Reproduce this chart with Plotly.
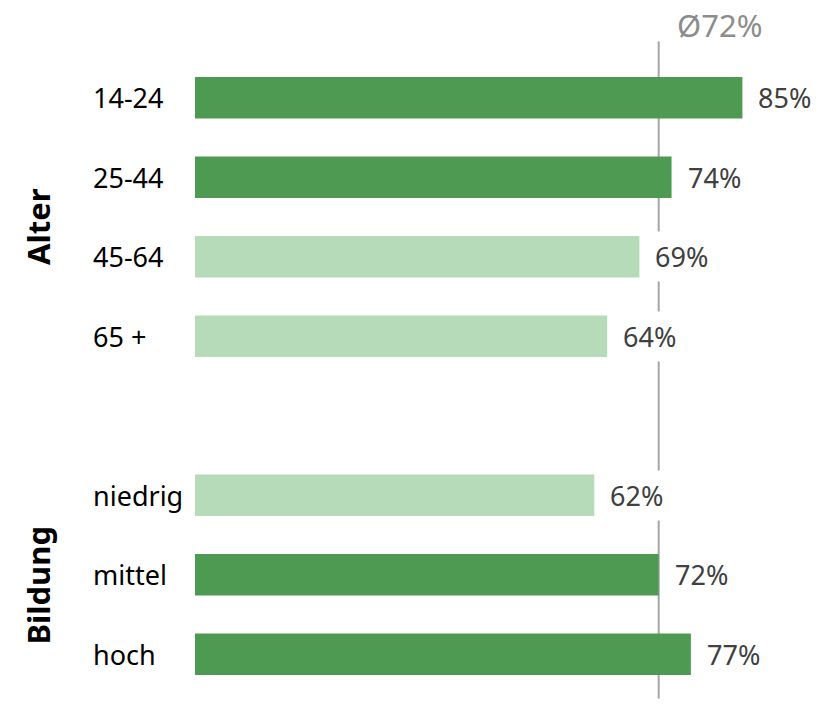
import plotly.graph_objects as go

categories = ["14-24", "25-44", "45-64", "65 +", " ", "niedrig", "mittel", "hoch"]
values = [85, 74, 69, 64, None, 62, 72, 77]
value_labels = ["85%", "74%", "69%", "64%", "", "62%", "72%", "77%"]
average = 72
average_label = "Ø72%"
groups = ["Alter", "Bildung"]

DARK = "#4e9a53"
LIGHT = "#b5dbb8"
colors = [DARK if (v is not None and v >= average) else LIGHT for v in values]

FONT = "Noto Sans"

fig = go.Figure()
fig.add_trace(go.Bar(
    y=categories, x=values, orientation="h",
    marker=dict(color=colors, line=dict(width=0)),
    hoverinfo="skip", showlegend=False,
))

# average line
fig.add_shape(type="line", xref="x", yref="paper", x0=average, x1=average,
              y0=-0.007, y1=1.026, line=dict(color="#a6a6a6", width=2), layer="below")

fig.add_annotation(x=average, xref="x", y=1.052, yref="paper", yanchor="middle",
                   xanchor="left", xshift=17, text=average_label, showarrow=False,
                   borderpad=0,
                   font=dict(family=FONT, size=31, color="#8c8c8c"))

for cat, v, lab in zip(categories, values, value_labels):
    if v is None:
        continue
    fig.add_annotation(x=v, y=cat, xref="x", yref="y", xanchor="left", xshift=9,
                       text=lab, showarrow=False, bgcolor="white", borderpad=6,
                       font=dict(family=FONT, size=27, color="#404040"))
    fig.add_annotation(x=-0.1615, xref="paper", y=cat, yref="y", xanchor="left",
                       text=cat, showarrow=False,
                       font=dict(family=FONT, size=27, color="#000000"))

fig.add_annotation(x=-0.2438, xref="paper", y=0.736, yref="paper", xanchor="center",
                   yanchor="middle", text="<b>%s</b>" % groups[0],
                   textangle=-90, showarrow=False, font=dict(family=FONT, size=31, color="#000000"))
fig.add_annotation(x=-0.2438, xref="paper", y=0.172, yref="paper", xanchor="center",
                   yanchor="middle", text="<b>%s</b>" % groups[1],
                   textangle=-90, showarrow=False, font=dict(family=FONT, size=31, color="#000000"))

fig.update_layout(
    width=831, height=696,
    margin=dict(l=187, r=0, t=50, b=10),
    plot_bgcolor="white", paper_bgcolor="white",
    bargap=0.48,
    xaxis=dict(range=[0, 100], visible=False),
    yaxis=dict(categoryorder="array", categoryarray=categories, autorange="reversed",
               showticklabels=False, showgrid=False, zeroline=False, ticks=""),
)

fig.write_html("out.html")
